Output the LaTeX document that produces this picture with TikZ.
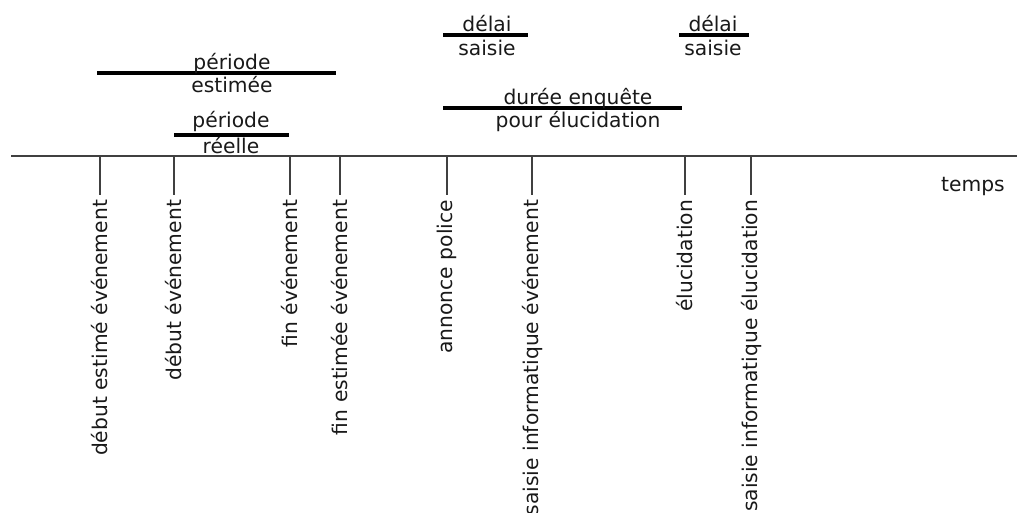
\documentclass[tikz,border=0pt]{standalone}
\usepackage{fontspec}
\setmainfont{DejaVu Sans}

\begin{document}
\begin{tikzpicture}[
    x=0.75pt, y=-0.75pt,
    axis/.style  = {line width=1.1pt, black!75},
    tick/.style  = {line width=1.1pt, black!75},
    bar/.style   = {line width=3pt},
    lab/.style   = {font=\fontsize{15.2}{18}\selectfont, text=black!90, inner sep=0pt},
    vlab/.style  = {lab, rotate=90, anchor=east, outer sep=3.75pt}
]
\useasboundingbox (0,0) rectangle (1017,512);

% Time axis
\coordinate (start) at (11,156);
\coordinate (end)   at (1017,156);
\draw[axis] (start) -- (end);
\node[lab, anchor=base east] (temps) at (1005,191) {temps};

% Events on the axis, labels read upwards
\foreach \n/\x/\txt in {1/100/début estimé événement, 2/174/début événement,
                        3/290/fin événement, 4/340/fin estimée événement,
                        5/447/annonce police, 6/532/saisie informatique événement,
                        7/685/élucidation, 8/751/saisie informatique élucidation} {
    \coordinate (t\n) at (\x,156);
    \node[vlab] (ev\n) at (\x,195) {\txt};
    \draw[tick] (t\n) -- (ev\n);
}

% Durations above the axis
\foreach \n/\xa/\xb/\y/\xt/\yu/\yd/\up/\dn in {
        est/97/336/73/232/69/92/période/estimée,
        ree/174/289/135/231/127/153/période/réelle,
        ds1/443/528/35/487/31/55/délai/saisie,
        ds2/679/749/35/713/31/55/délai/saisie,
        enq/443/682/108/578/104/127/durée enquête/pour élucidation} {
    \coordinate (\n-a) at (\xa,\y);
    \coordinate (\n-b) at (\xb,\y);
    \draw[bar] (\n-a) -- (\n-b);
    \node[lab, anchor=base] (\n-up) at (\xt,\yu) {\up};
    \node[lab, anchor=base] (\n-dn) at (\xt,\yd) {\dn};
}

\end{tikzpicture}
\end{document}
